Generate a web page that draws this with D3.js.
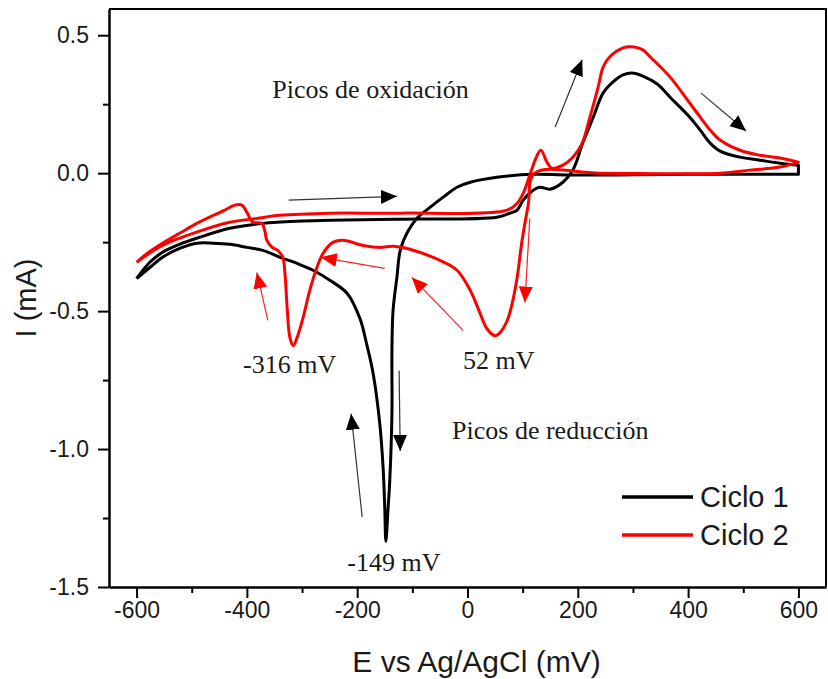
<!DOCTYPE html>
<html>
<head>
<meta charset="utf-8">
<style>
  body { margin: 0; background: #fff; }
  .sans { font-family: "Liberation Sans", Arial, sans-serif; fill: #1a1a1a; }
  .serif { font-family: "Liberation Serif", "Times New Roman", serif; fill: #1a1a1a; }
</style>
<script src="https://cdn.jsdelivr.net/npm/d3@7"></script>
</head>
<body>
<script>
// Ciclo 1, anodic sweep -600 -> 600 (mV, mA)
var c1AnodicE = [-600, -576, -553, -522, -491, -431, -371, -309, -249, -122, 53, 77, 90, 101, 119, 131, 150, 173, 191, 209,
  228, 246, 264, 282, 298, 318, 344, 367, 403, 422, 440, 458, 494, 530, 567, 600];
var c1AnodicI = [-0.382, -0.323, -0.287, -0.258, -0.236, -0.200, -0.182, -0.174, -0.171, -0.167, -0.160, -0.145, -0.134, -0.098, -0.062, -0.051, -0.058, -0.033, 0.011, 0.109,
  0.203, 0.291, 0.331, 0.356, 0.363, 0.352, 0.323, 0.276, 0.203, 0.156, 0.109, 0.080, 0.058, 0.047, 0.036, 0.029];
// Ciclo 1, cathodic sweep 600 -> -600
var c1CathodicE = [600, 400, 186, 119, 53, 5, -19, -44, -68, -92, -110, -122, -128, -135, -137, -137, -141, -144, -148,
  -150, -153, -159, -171, -183, -195, -218, -249, -280, -309, -340, -371, -400, -431, -461, -491, -522, -553, -576, -600];
var c1CathodicI = [-0.004, -0.004, -0.007, -0.004, -0.015, -0.033, -0.051, -0.087, -0.124, -0.164, -0.218, -0.280, -0.378, -0.498, -0.643, -0.872, -1.116, -1.214, -1.334,
  -1.214, -1.068, -0.909, -0.727, -0.618, -0.527, -0.436, -0.389, -0.352, -0.327, -0.305, -0.280, -0.269, -0.258, -0.254, -0.254, -0.273, -0.305, -0.342, -0.382];

// Ciclo 2, anodic sweep
var c2AnodicE = [-600, -553, -491, -431, -382, -340, -249, -122, 72, 90, 101, 113, 124, 133, 144, 153, 173, 191, 208, 222,
  237, 246, 258, 282, 295, 318, 331, 367, 403, 422, 440, 458, 494, 530, 567, 600];
var c2AnodicI = [-0.323, -0.262, -0.214, -0.178, -0.164, -0.153, -0.145, -0.145, -0.134, -0.109, -0.073, -0.007, 0.054, 0.083, 0.040, 0.018, 0.029, 0.058, 0.109, 0.203,
  0.313, 0.385, 0.422, 0.454, 0.458, 0.447, 0.422, 0.349, 0.254, 0.203, 0.156, 0.120, 0.083, 0.065, 0.055, 0.040];
// Ciclo 2, cathodic sweep
var c2CathodicE = [600, 567, 512, 458, 240, 122, 110, 99, 90, 81, 72, 59, 50, 35, 23, 5, -19, -50, -81, -110, -135,
  -159, -189, -226, -244, -262, -273, -286, -298, -309, -316, -322, -327, -331, -335, -344, -354, -364, -367, -373, -389,
  -400, -409, -422, -440, -461, -491, -522, -553, -581, -600];
var c2CathodicI = [0.040, 0.022, 0.011, 0, 0, 0, -0.116, -0.243, -0.378, -0.472, -0.534, -0.578, -0.589, -0.563, -0.509, -0.425, -0.352, -0.316, -0.291, -0.273, -0.265,
  -0.269, -0.262, -0.243, -0.251, -0.291, -0.342, -0.425, -0.523, -0.596, -0.625, -0.596, -0.487, -0.363, -0.305, -0.280, -0.269, -0.243, -0.214, -0.182, -0.178,
  -0.142, -0.116, -0.116, -0.134, -0.153, -0.182, -0.218, -0.254, -0.291, -0.323];

var seriesNames = ["Ciclo 1", "Ciclo 2"];
var seriesColors = ["#000000", "#ff0000"];

var xTicks = [-600, -400, -200, 0, 200, 400, 600];
var xMinor = [-500, -300, -100, 100, 300, 500];
var yTicks = [-1.5, -1.0, -0.5, 0.0, 0.5];
var yMinor = [-1.25, -0.75, -0.25, 0.25];

// arrows [E0, I0, E1, I1]
var blackArrows = [[-324, -0.098, -128, -0.084], [159, 0.167, 208, 0.411], [423, 0.291, 505, 0.153],
  [-191, -1.246, -211, -0.872], [-124, -0.716, -122, -1.007]];
var redArrows = [[-362, -0.534, -382, -0.360], [-150, -0.345, -266, -0.305],
  [-8, -0.570, -101, -0.378], [113, -0.164, 104, -0.469]];

// annotation texts [text, E, I]
var notes = [["Picos de oxidación", -354, 0.273], ["Picos de reducción", -28, -0.963],
  ["-316 mV", -407, -0.723], ["52 mV", -8, -0.709], ["-149 mV", -218, -1.443]];

var W = 828, H = 679,
    pLeft = 109, pRight = 826, pTop = 9, pBottom = 587;

var x = d3.scaleLinear().domain([-650, 650]).range([pLeft, pRight]);
var y = d3.scaleLinear().domain([-1.5, 0.595]).range([pBottom, pTop]);

var svg = d3.select("body").append("svg")
  .attr("width", W).attr("height", H);

var defs = svg.append("defs");
function marker(id, color) {
  defs.append("marker")
    .attr("id", id)
    .attr("markerUnits", "userSpaceOnUse")
    .attr("markerWidth", 16).attr("markerHeight", 14)
    .attr("viewBox", "0 0 16 14")
    .attr("refX", 16).attr("refY", 7)
    .attr("orient", "auto")
    .append("path")
    .attr("d", "M0,0L16,7L0,14Z")
    .attr("fill", color);
}
marker("headBlack", "#000");
marker("headRed", "#ff0000");

function zip(E, I) { return E.map(function(e, i) { return {E: e, I: I[i]}; }); }

var line = d3.line()
  .x(function(d) { return x(d.E); })
  .y(function(d) { return y(d.I); })
  .curve(d3.curveCatmullRom.alpha(0.5));

// each cycle: anodic curve, then a straight turn at 600 mV into the cathodic curve
var cycles = [
  [zip(c1AnodicE, c1AnodicI), zip(c1CathodicE, c1CathodicI)],
  [zip(c2AnodicE, c2AnodicI), zip(c2CathodicE, c2CathodicI)]
];

svg.selectAll("path.cv")
  .data(cycles)
  .enter().append("path")
  .attr("class", "cv")
  .attr("d", function(d) { return line(d[0]) + line(d[1]).replace(/^M/, "L"); })
  .attr("fill", "none")
  .attr("stroke", function(d, i) { return seriesColors[i]; })
  .attr("stroke-width", 3)
  .attr("stroke-linejoin", "round");

// arrows
svg.selectAll("line.ab")
  .data(blackArrows)
  .enter().append("line")
  .attr("x1", function(d) { return x(d[0]); })
  .attr("y1", function(d) { return y(d[1]); })
  .attr("x2", function(d) { return x(d[2]); })
  .attr("y2", function(d) { return y(d[3]); })
  .attr("stroke", "#333")
  .attr("stroke-width", 1.2)
  .attr("marker-end", "url(#headBlack)");

svg.selectAll("line.ar")
  .data(redArrows)
  .enter().append("line")
  .attr("x1", function(d) { return x(d[0]); })
  .attr("y1", function(d) { return y(d[1]); })
  .attr("x2", function(d) { return x(d[2]); })
  .attr("y2", function(d) { return y(d[3]); })
  .attr("stroke", "#ff2020")
  .attr("stroke-width", 1.2)
  .attr("marker-end", "url(#headRed)");

svg.selectAll("text.note")
  .data(notes)
  .enter().append("text")
  .attr("class", "serif")
  .attr("x", function(d) { return x(d[1]); })
  .attr("y", function(d) { return y(d[2]); })
  .attr("font-size", 26)
  .text(function(d) { return d[0]; });

// frame
svg.append("path")
  .attr("d", "M" + pLeft + "," + pTop + "H" + pRight + "V" + pBottom)
  .attr("fill", "none")
  .attr("stroke", "#000")
  .attr("stroke-width", 2);

// axes
var gx = svg.append("g").attr("transform", "translate(0," + pBottom + ")");
gx.call(d3.axisBottom(x).tickValues(xTicks).tickSize(11).tickSizeOuter(0).tickPadding(4)
  .tickFormat(function(d) { return String(d); }));
gx.append("g").call(d3.axisBottom(x).tickValues(xMinor).tickSize(6).tickFormat(""))
  .select(".domain").remove();

var gy = svg.append("g").attr("transform", "translate(" + pLeft + ",0)");
gy.call(d3.axisLeft(y).tickValues(yTicks).tickSize(11).tickSizeOuter(0).tickPadding(9)
  .tickFormat(function(d) { return d.toFixed(1); }));
gy.append("g").call(d3.axisLeft(y).tickValues(yMinor).tickSize(6).tickFormat(""))
  .select(".domain").remove();

svg.selectAll(".domain").attr("stroke-width", 2.5);
svg.selectAll(".tick line").attr("stroke-width", 2);
svg.selectAll(".tick text")
  .attr("class", "sans")
  .attr("font-size", 23)
  .attr("fill", "#1a1a1a");

svg.append("text").attr("class", "sans")
  .attr("x", (pLeft + pRight) / 2 + 9).attr("y", 672)
  .attr("text-anchor", "middle").attr("font-size", 30)
  .text("E vs Ag/AgCl (mV)");

svg.append("text").attr("class", "sans")
  .attr("transform", "translate(36," + 298 + ") rotate(-90)")
  .attr("text-anchor", "middle").attr("font-size", 29)
  .text("I (mA)");

// legend
var lg = svg.append("g");
seriesNames.forEach(function(name, i) {
  var ly = 497 + i * 38;
  lg.append("line").attr("x1", 622).attr("x2", 693).attr("y1", ly).attr("y2", ly)
    .attr("stroke", seriesColors[i]).attr("stroke-width", 3.5);
  lg.append("text").attr("class", "sans")
    .attr("x", 700).attr("y", ly + 10).attr("font-size", 29)
    .text(name);
});
</script>
</body>
</html>
